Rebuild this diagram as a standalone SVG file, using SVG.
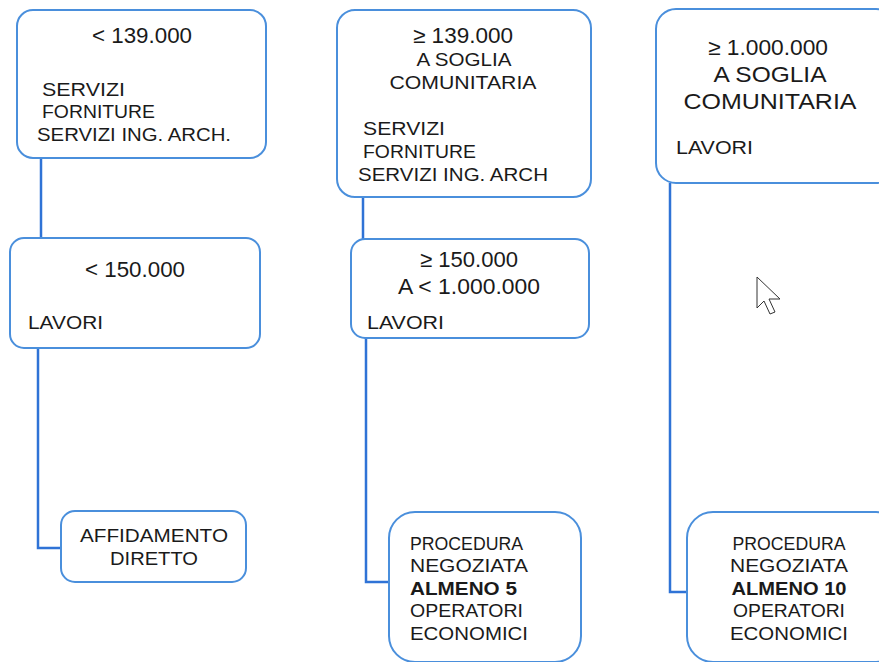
<svg xmlns="http://www.w3.org/2000/svg" width="879" height="662" viewBox="0 0 879 662">
<style>
.box{fill:#fff;stroke:#4a8fdc;stroke-width:2}
.conn{fill:none;stroke:#2f73d6;stroke-width:2.5}
text{font-family:"Liberation Sans","DejaVu Sans",sans-serif;fill:#1a1a1a}
.n{font-size:22px;text-anchor:middle}
.h{font-size:18.5px;text-anchor:middle}
.hb{font-size:22px;text-anchor:middle}
.t{font-size:18.5px}
.c{font-size:18.5px;text-anchor:middle}
.b{font-weight:bold}
</style>
<rect width="879" height="662" fill="#fff"/>
<g id="connectors">
<path class="conn" d="M41,158 V238"/>
<path class="conn" d="M38,348 V548 H61"/>
<path class="conn" d="M363,197 V239"/>
<path class="conn" d="M366,338 V582 H389"/>
<path class="conn" d="M670,183 V592 H687"/>
</g>
<g id="n1">
<rect class="box" x="17" y="10" width="249" height="148" rx="16"/>
<text class="n" x="142" y="43" textLength="100" lengthAdjust="spacingAndGlyphs">&lt; 139.000</text>
<text class="t" x="42" y="96" textLength="83" lengthAdjust="spacingAndGlyphs">SERVIZI</text>
<text class="t" x="42" y="118" textLength="113" lengthAdjust="spacingAndGlyphs">FORNITURE</text>
<text class="t" x="37" y="141" textLength="194" lengthAdjust="spacingAndGlyphs">SERVIZI ING. ARCH.</text>
</g>
<g id="n2">
<rect class="box" x="10" y="238" width="250" height="110" rx="14"/>
<text class="n" x="135" y="277" textLength="100" lengthAdjust="spacingAndGlyphs">&lt; 150.000</text>
<text class="t" x="28" y="329" textLength="75" lengthAdjust="spacingAndGlyphs">LAVORI</text>
</g>
<g id="n3">
<rect class="box" x="61" y="511" width="185" height="71" rx="14"/>
<text class="c" x="154" y="542" textLength="148" lengthAdjust="spacingAndGlyphs">AFFIDAMENTO</text>
<text class="c" x="154" y="565" textLength="88" lengthAdjust="spacingAndGlyphs">DIRETTO</text>
</g>
<g id="n4">
<rect class="box" x="337" y="10" width="254" height="187" rx="18"/>
<text class="n" x="463" y="43" textLength="100" lengthAdjust="spacingAndGlyphs">≥ 139.000</text>
<text class="h" x="464" y="66" textLength="95" lengthAdjust="spacingAndGlyphs">A SOGLIA</text>
<text class="h" x="463" y="89" textLength="147" lengthAdjust="spacingAndGlyphs">COMUNITARIA</text>
<text class="t" x="363" y="135" textLength="82" lengthAdjust="spacingAndGlyphs">SERVIZI</text>
<text class="t" x="363" y="158" textLength="113" lengthAdjust="spacingAndGlyphs">FORNITURE</text>
<text class="t" x="358" y="181" textLength="190" lengthAdjust="spacingAndGlyphs">SERVIZI ING. ARCH</text>
</g>
<g id="n5">
<rect class="box" x="351" y="239" width="238" height="99" rx="14"/>
<text class="n" x="469" y="267" textLength="98" lengthAdjust="spacingAndGlyphs">≥ 150.000</text>
<text class="n" x="469" y="294" textLength="142" lengthAdjust="spacingAndGlyphs">A &lt; 1.000.000</text>
<text class="t" x="367" y="329" textLength="77" lengthAdjust="spacingAndGlyphs">LAVORI</text>
</g>
<g id="n6">
<rect class="box" x="389" y="512" width="192" height="150" rx="26"/>
<text class="t" x="410" y="550" textLength="113" lengthAdjust="spacingAndGlyphs">PROCEDURA</text>
<text class="t" x="410" y="572" textLength="118" lengthAdjust="spacingAndGlyphs">NEGOZIATA</text>
<text class="t b" x="410" y="595" textLength="107" lengthAdjust="spacingAndGlyphs">ALMENO 5</text>
<text class="t" x="410" y="617" textLength="113" lengthAdjust="spacingAndGlyphs">OPERATORI</text>
<text class="t" x="410" y="640" textLength="118" lengthAdjust="spacingAndGlyphs">ECONOMICI</text>
</g>
<g id="n7">
<rect class="box" x="656" y="9" width="240" height="174" rx="20"/>
<text class="hb" x="768" y="55" textLength="120" lengthAdjust="spacingAndGlyphs">≥ 1.000.000</text>
<text class="hb" x="770" y="82" textLength="113" lengthAdjust="spacingAndGlyphs">A SOGLIA</text>
<text class="hb" x="770" y="109" textLength="173" lengthAdjust="spacingAndGlyphs">COMUNITARIA</text>
<text class="t" x="676" y="154" textLength="77" lengthAdjust="spacingAndGlyphs">LAVORI</text>
</g>
<g id="n8">
<rect class="box" x="687" y="512" width="215" height="150" rx="26"/>
<text class="c" x="789" y="550" textLength="113" lengthAdjust="spacingAndGlyphs">PROCEDURA</text>
<text class="c" x="789" y="572" textLength="118" lengthAdjust="spacingAndGlyphs">NEGOZIATA</text>
<text class="c b" x="789" y="595" textLength="115" lengthAdjust="spacingAndGlyphs">ALMENO 10</text>
<text class="c" x="789" y="617" textLength="112" lengthAdjust="spacingAndGlyphs">OPERATORI</text>
<text class="c" x="789" y="640" textLength="118" lengthAdjust="spacingAndGlyphs">ECONOMICI</text>
</g>
<path d="M757,277 L757,308 L764,301 L770,314 L775,312 L769,299 L780,299 Z" fill="#fff" stroke="#333" stroke-width="1" stroke-linejoin="round"/>
</svg>
